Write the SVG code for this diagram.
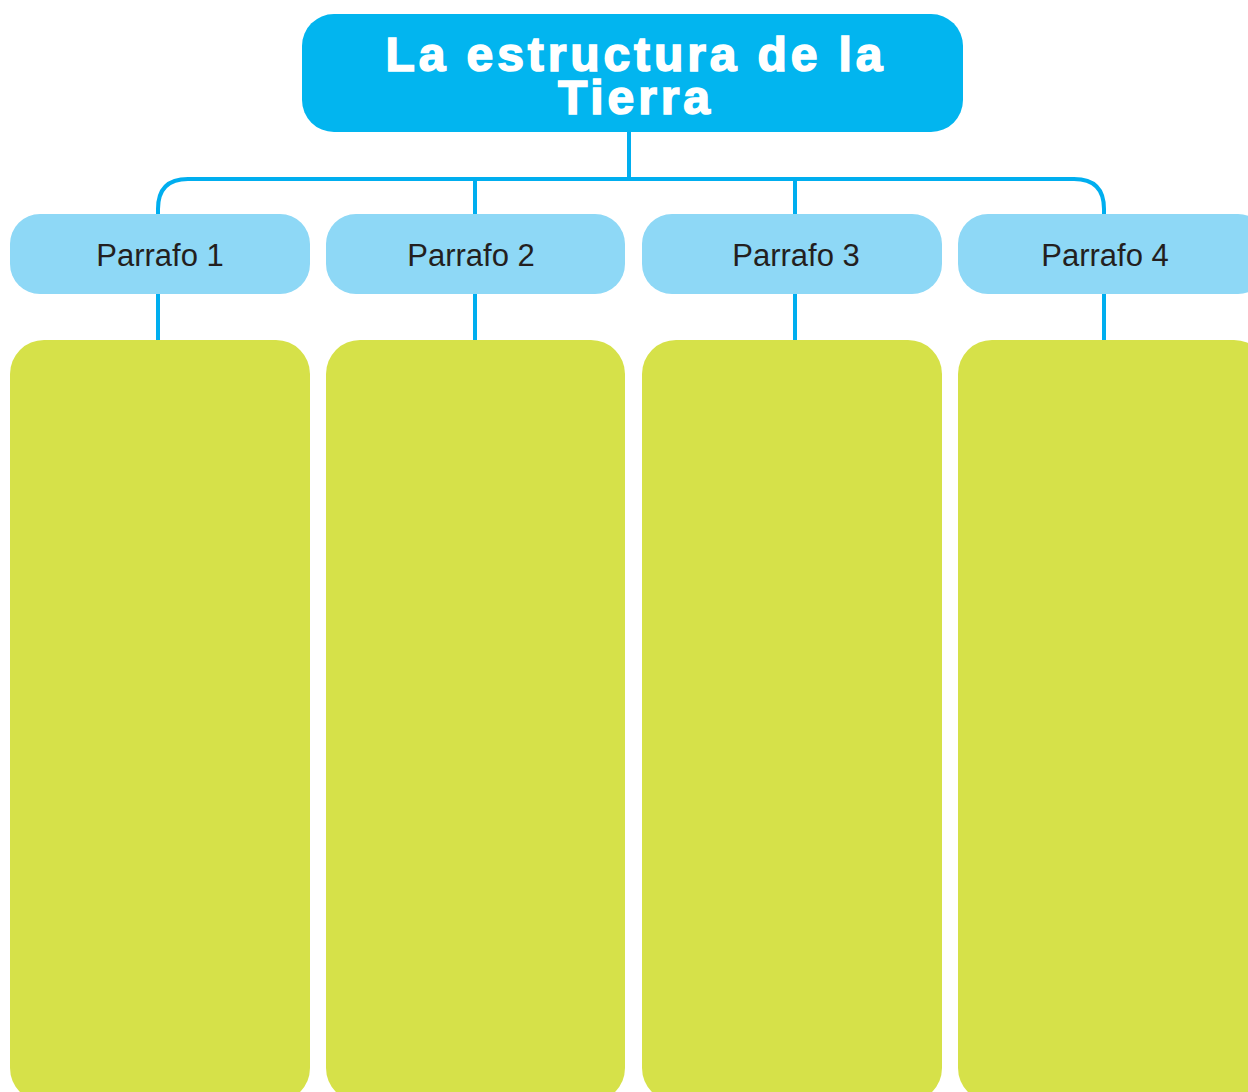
<svg xmlns="http://www.w3.org/2000/svg" width="1248" height="1092" viewBox="0 0 1248 1092">
<style>
.title{font-family:"Liberation Sans",Arial,sans-serif;font-weight:bold;font-size:48px;fill:#fff;stroke:#fff;stroke-width:1.6px;letter-spacing:3.9px;text-anchor:middle}
.lbl{font-family:"Liberation Sans",Arial,sans-serif;font-size:31px;fill:#231F20;text-anchor:middle}
.hdr{fill:#8ED8F6}
.box{fill:#D6E149}
.ln{fill:none;stroke:#00AEEF;stroke-width:4}
</style>
<rect width="1248" height="1092" fill="#fff"/>
<g id="connectors">
<path class="ln" d="M629 132V179"/>
<path class="ln" d="M158 215V209Q158 179 188 179H1074Q1104 179 1104 209V215"/>
<path class="ln" d="M475 179V215"/>
<path class="ln" d="M795 179V215"/>
<path class="ln" d="M158 294V341"/>
<path class="ln" d="M475 294V341"/>
<path class="ln" d="M795 294V341"/>
<path class="ln" d="M1104 294V341"/>
</g>
<g id="title">
<rect x="302" y="14" width="661" height="118" rx="32" fill="#02B5EF"/>
<text class="title"><tspan x="636" y="71">La estructura de la</tspan><tspan x="636" y="114">Tierra</tspan></text>
</g>
<g id="p1"><rect class="hdr" x="10" y="214" width="300" height="80" rx="30"/><text class="lbl" x="160" y="266">Parrafo 1</text></g>
<g id="p2"><rect class="hdr" x="326" y="214" width="299" height="80" rx="30"/><text class="lbl" x="471" y="266">Parrafo 2</text></g>
<g id="p3"><rect class="hdr" x="642" y="214" width="300" height="80" rx="30"/><text class="lbl" x="796" y="266">Parrafo 3</text></g>
<g id="p4"><rect class="hdr" x="958" y="214" width="310" height="80" rx="30"/><text class="lbl" x="1105" y="266">Parrafo 4</text></g>
<g id="b1"><rect class="box" x="10" y="340" width="300" height="762" rx="34"/></g>
<g id="b2"><rect class="box" x="326" y="340" width="299" height="762" rx="34"/></g>
<g id="b3"><rect class="box" x="642" y="340" width="300" height="762" rx="34"/></g>
<g id="b4"><rect class="box" x="958" y="340" width="310" height="762" rx="34"/></g>
</svg>
